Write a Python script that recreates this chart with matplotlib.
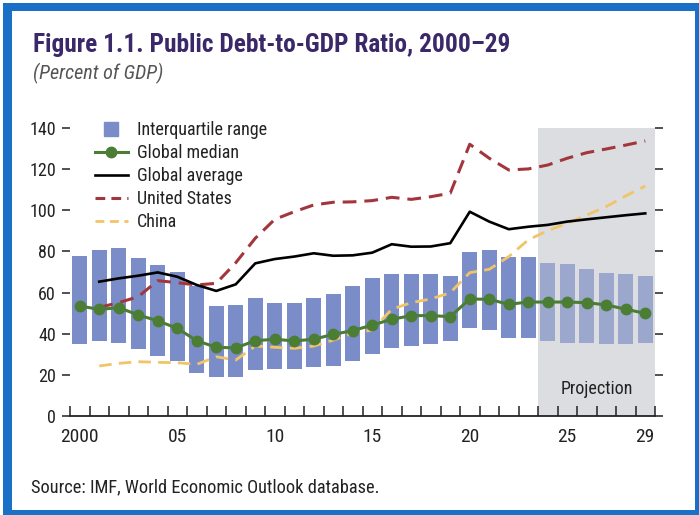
import matplotlib
matplotlib.use("Agg")
import matplotlib.pyplot as plt
from matplotlib.patches import Rectangle
from matplotlib.lines import Line2D
from matplotlib import font_manager

# ---- data -------------------------------------------------------------
years = list(range(2000, 2030))

iqr_low = [34.8, 36.5, 35.6, 32.4, 29.2, 26.9, 21.1, 18.8, 19.1, 22.4,
           22.7, 23.0, 23.7, 24.5, 26.6, 30.1, 32.9, 34.2, 35.0, 36.6,
           42.6, 41.8, 38.1, 38.1, 36.5, 35.3, 35.6, 35.2, 34.9, 35.5]
iqr_high = [77.9, 80.7, 81.5, 76.6, 73.2, 69.8, 63.4, 53.3, 54.0, 57.5,
            55.1, 54.8, 57.4, 59.5, 63.4, 67.2, 69.0, 69.0, 69.2, 68.2,
            79.9, 80.5, 77.5, 77.5, 74.4, 73.9, 71.6, 69.4, 69.0, 68.1]

median = [53.5, 51.8, 52.7, 49.1, 46.3, 42.6, 36.6, 33.4, 33.1, 36.6,
          37.3, 36.5, 37.3, 39.7, 41.5, 44.2, 47.0, 48.8, 48.8, 48.3,
          56.9, 56.7, 54.3, 55.4, 55.4, 55.4, 55.1, 54.0, 51.9, 49.9]

line_years = list(range(2001, 2030))
global_avg = [65.3, 66.9, 68.2, 69.8, 67.7, 63.7, 60.8, 64.0, 74.2,
              76.3, 77.5, 79.1, 77.9, 78.1, 79.4, 83.5, 82.3, 82.4, 84.0,
              99.3, 94.5, 90.8, 92.0, 92.9, 94.5, 95.6, 96.6, 97.6, 98.5]
united_states = [52.8, 55.1, 58.0, 65.8, 64.8, 63.7, 64.5, 74.5, 86.4,
                 95.6, 99.3, 102.6, 103.9, 104.1, 104.7, 106.3, 105.3, 106.6, 108.3,
                 132.1, 125.3, 119.6, 120.1, 122.0, 125.3, 128.0, 129.8, 131.7, 133.7]
china = [24.3, 25.6, 26.4, 26.1, 25.9, 25.1, 28.8, 27.2, 34.0,
         33.4, 32.9, 34.0, 36.9, 40.2, 41.8, 51.9, 55.1, 56.9, 59.9,
         69.7, 71.3, 77.5, 85.6, 90.1, 93.7, 97.7, 101.8, 107.0, 111.8]

projection_start = 2024
xtick_years = [2000, 2005, 2010, 2015, 2020, 2025, 2029]
xtick_labels = ["2000", "05", "10", "15", "20", "25", "29"]
ytick_values = [0, 20, 40, 60, 80, 100, 120, 140]

# ---- fonts: prefer a narrow sans if one is installed ---------------------
entries = font_manager.fontManager.ttflist
names = {f.name for f in entries}
family = "DejaVu Sans"
stretch = "normal"
for cand in ("Liberation Sans Narrow", "Roboto Condensed", "Open Sans Condensed",
             "Noto Sans Condensed", "Arial Narrow"):
    if cand in names:
        family = cand
        break
else:
    for f in entries:
        st = str(f.stretch)
        if "condensed" in st or "Condensed" in f.name or "Narrow" in f.name:
            family = f.name
            stretch = "condensed" if "condensed" in st else "normal"
            break
plt.rcParams["font.family"] = [family, "DejaVu Sans"]
plt.rcParams["font.stretch"] = stretch

# ---- colours -----------------------------------------------------------
BAR = "#7b8dc8"
BAR_PROJ = "#9ba7cc"
SHADE = "#dcdde0"
GREEN = "#4b7d35"
RED = "#a3363d"
GOLD = "#f1c468"
TITLE = "#3b2869"
FRAME = "#1a6fc6"
INK = "#222222"

W, H = 699, 515
fig = plt.figure(figsize=(W / 100, H / 100), dpi=100)
fig.patch.set_facecolor("white")

# frame around the figure
fig.patches.append(Rectangle((3 / W, 0), 696 / W, 512 / H, transform=fig.transFigure,
                             facecolor=FRAME, edgecolor="none", zorder=-3))
fig.patches.append(Rectangle((12 / W, 5 / H), (695 - 12) / W, 499 / H,
                             transform=fig.transFigure,
                             facecolor="white", edgecolor="none", zorder=-2))

ax = fig.add_axes([70 / W, 1 - 416 / H, (655 - 70) / W, (416 - 128) / H])
ax.set_facecolor("none")
ax.set_xlim(1999.5, 2029.5)
ax.set_ylim(0, 140)

# projection shading
ax.axvspan(projection_start - 0.5, 2029.5, color=SHADE, zorder=0, lw=0)
ax.text((projection_start - 0.5 + 2029.5) / 2, 13, "Projection", ha="center", va="center",
        fontsize=13, color=INK, zorder=5)

# interquartile bars
for yr, lo, hi in zip(years, iqr_low, iqr_high):
    ax.bar(yr, hi - lo, bottom=lo, width=0.76,
           color=BAR_PROJ if yr >= projection_start else BAR, zorder=1, lw=0)

ax.plot(line_years, united_states, color=RED, lw=2.2, dashes=(4.5, 2.6), zorder=3)
ax.plot(line_years, china, color=GOLD, lw=2.0, dashes=(4.5, 2.6), zorder=3)
ax.plot(line_years, global_avg, color="black", lw=1.9, zorder=3)
ax.plot(years, median, color=GREEN, lw=2.2, marker="o", ms=7.5, zorder=4)

# axes styling
for side in ("left", "right", "top"):
    ax.spines[side].set_visible(False)
ax.spines["bottom"].set_linewidth(1.3)
ax.spines["bottom"].set_color(INK)

ax.set_yticks(ytick_values)
ax.set_yticklabels([str(v) for v in ytick_values])
ax.tick_params(axis="y", which="major", direction="out", length=6, width=1.1,
               labelsize=13, pad=4, colors=INK, right=True, labelright=False)

ax.set_xticks(xtick_years)
ax.set_xticklabels(xtick_labels)
ax.set_xticks([y - 0.5 for y in years] + [2029.5], minor=True)
ax.tick_params(axis="x", which="major", length=0, labelsize=14, pad=9, colors=INK)
ax.tick_params(axis="x", which="minor", direction="in", length=7, width=1.1, color=INK)

# legend
handles = [
    Line2D([], [], ls="none", marker="s", ms=10, color=BAR),
    Line2D([], [], color=GREEN, lw=2.2, marker="o", ms=7.5),
    Line2D([], [], color="black", lw=1.9),
    Line2D([], [], color=RED, lw=2.2, dashes=(3.2, 2.0)),
    Line2D([], [], color=GOLD, lw=2.0, dashes=(3.2, 2.0)),
]
labels = ["Interquartile range", "Global median", "Global average", "United States", "China"]
leg = ax.legend(handles, labels, loc="upper left", bbox_to_anchor=(0.03, 1.049),
                frameon=False, fontsize=13, handlelength=1.85, handletextpad=0.5,
                labelspacing=0.28, borderaxespad=0)
for t in leg.get_texts():
    t.set_color(INK)

# titles and source
fig.text(33 / W, 1 - 45 / H, "Figure 1.1. Public Debt-to-GDP Ratio, 2000–29",
         fontsize=18.3, fontweight="bold", color=TITLE, va="center", ha="left")
fig.text(33 / W, 1 - 73 / H, "(Percent of GDP)", fontsize=14.5, style="italic",
         color="#555555", va="center", ha="left")
fig.text(31 / W, 1 - 487 / H, "Source: IMF, World Economic Outlook database.",
         fontsize=13.2, color=INK, va="center", ha="left")

fig.savefig("out.png", dpi=100)
